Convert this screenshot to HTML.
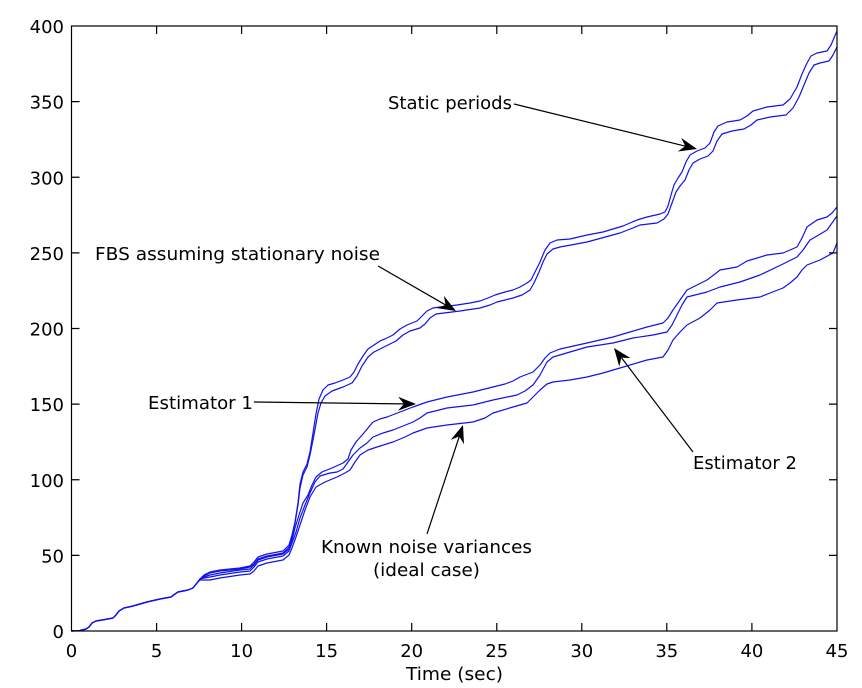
<!DOCTYPE html>
<html>
<head>
<meta charset="utf-8">
<style>
html,body{margin:0;padding:0;background:#fff;}
svg{display:block;}
text{font-family:"DejaVu Sans","Liberation Sans",sans-serif;fill:#000;}
</style>
</head>
<body>
<svg width="862" height="688" viewBox="0 0 862 688" xmlns="http://www.w3.org/2000/svg">
<rect x="0" y="0" width="862" height="688" fill="#fff"/>

<!-- curves -->
<g fill="none" stroke="#1212e8" stroke-width="1.2" stroke-linejoin="round" stroke-linecap="round">
<!-- FBS upper -->
<polyline points="72,631 80,630.5 86,629 89,627 92,623 96,621 105,619.5 113,618 116,615 119,611 124,608 133,606 147,602 160,599 171,597 175,594 178,592 188,590 193,588 197,583 200,579 204,575 210,572 220,570 240,568 250,566 254,562 258,557 267,554 283,551 289,545 292,535 295,522 298,503 300,484 303,472 307,464 310,452 313,433 316,414 319,399 323,390 328,385 335,383 343,380 350,377 354,372 358,364 363,356 368,349 374,345 380,341 387,338 393,335 400,329 407,325 417,321 422,316 427,311 433,308 440,307 457,305 470,303 480,301 488,298 495,295 505,292 513,290 520,287 527,283 531,280 535,272 540,262 545,250 550,243 557,240 570,239 587,235 603,232 623,226 630,223 637,220 647,217 660,214 665,212 668,206 671,195 674,185 678,178 682,172 686,162 690,155 697,151 705,148 710,143 714,132 718,126 727,122 740,120 747,116 753,111 767,107 783,105 790,99 797,87 802,74 807,63 811,56 817,53 827,51 831,45 834,38 837,31"/>
<!-- FBS lower -->
<polyline points="72,631 80,630.5 86,629 89,627 92,623 96,621 105,619.5 113,618 116,615 119,611 124,608 133,606 147,602 160,599 171,597 175,594 178,592 188,590 193,588 197,583 200,579 204,576 210,573 220,571 240,569 250,567 254,564 258,559 267,556 283,553 289,547 292,537 295,523 298,505 300,488 303,475 307,467 310,455 314,435 318,413 321,403 325,396 332,391 343,387 352,383 357,376 362,366 368,357 374,352 382,348 390,344 396,341 403,335 410,331 420,328 425,324 430,318 436,314 444,313 460,311 480,308 490,305 497,302 513,298 522,295 530,290 534,283 539,272 543,262 547,254 553,249 560,247 587,242 620,233 633,228 640,225 657,223 664,219 668,214 672,203 676,192 680,186 685,180 689,170 693,163 700,159 708,156 713,151 717,141 722,134 732,131 744,129 751,125 757,120 770,117 786,115 793,108 799,97 804,85 809,73 814,65 820,63 829,61 833,55 837,47"/>
<!-- Estimator 1 (top of lower group) -->
<polyline points="72,631 80,630.5 86,629 89,627 92,623 96,621 105,619.5 113,618 116,615 119,611 124,608 133,606 147,602 160,599 171,597 175,594 178,592 188,590 193,588 197,583 200,579 204,577 210,575 220,573 240,570 250,569 254,565 258,560 267,557 283,554 289,549 292,540 295,528 299,515 303,503 308,495 312,485 316,477 322,472 332,468 343,463 348,459 351,450 356,442 363,434 368,428 373,422 380,419 387,417 400,412 413,407 427,402 447,397 473,392 493,387 505,384 513,381 520,377 533,372 540,365 545,358 550,353 560,349 587,343 613,337 630,332 647,327 663,323 668,318 673,310 680,300 687,290 697,285 707,280 715,274 720,270 737,267 747,261 767,255 783,253 797,247 802,238 807,227 817,220 827,217 832,213 837,207"/>
<!-- Estimator 2 (middle) -->
<polyline points="72,631 80,630.5 86,629 89,627 92,623 96,621 105,619.5 113,618 116,615 119,611 124,608 133,606 147,602 160,599 171,597 175,594 178,592 188,590 193,588 197,583 200,579 204,578 210,577 220,575 240,572 250,571 254,567 258,562 267,559 283,556 289,551 292,543 296,532 300,518 305,505 310,493 315,482 320,476 330,473 337,472 343,469 348,462 353,455 360,448 367,443 373,437 383,433 393,430 403,426 413,422 420,418 427,413 447,408 473,405 493,400 517,395 525,391 533,385 540,375 547,362 553,357 570,352 587,347 613,343 633,338 653,335 667,332 672,325 677,315 682,305 687,297 707,292 720,287 740,282 760,275 783,264 797,257 803,250 810,240 817,236 827,230 837,216"/>
<!-- Known noise variances (bottom) -->
<polyline points="72,631 80,630.5 86,629 89,627 92,623 96,621 105,619.5 113,618 116,615 119,611 124,608 133,606 147,602 160,599 171,597 175,594 178,592 188,590 193,588 197,583 200,580 204,580 210,580 220,578 240,575 250,574 254,571 258,566 267,563 283,560 289,555 292,548 296,537 300,525 305,510 310,497 316,487 325,482 337,477 345,473 350,470 355,462 360,455 368,450 377,447 393,442 405,437 413,433 427,428 447,425 473,422 485,418 493,413 513,407 527,403 533,397 540,390 547,384 553,382 570,380 587,377 603,373 620,368 647,360 663,357 668,350 673,340 680,332 687,325 700,318 710,310 717,303 737,300 760,297 770,293 783,288 790,283 797,277 802,270 807,265 820,260 833,253 837,243"/>
</g>

<!-- axes box -->
<rect x="71.5" y="26" width="765.5" height="605" fill="none" stroke="#000" stroke-width="1.2"/>

<!-- ticks -->
<g stroke="#000" stroke-width="1.2">
<path d="M156.6,631v-8M241.6,631v-8M326.6,631v-8M411.7,631v-8M496.8,631v-8M581.8,631v-8M666.8,631v-8M751.9,631v-8"/>
<path d="M156.6,26v8M241.6,26v8M326.6,26v8M411.7,26v8M496.8,26v8M581.8,26v8M666.8,26v8M751.9,26v8"/>
<path d="M71.5,555.4h8M71.5,479.75h8M71.5,404.1h8M71.5,328.5h8M71.5,252.9h8M71.5,177.25h8M71.5,101.6h8"/>
<path d="M837,555.4h-8M837,479.75h-8M837,404.1h-8M837,328.5h-8M837,252.9h-8M837,177.25h-8M837,101.6h-8"/>
</g>

<!-- tick labels -->
<g font-size="18" text-anchor="middle">
<text x="71.5" y="657">0</text>
<text x="156.6" y="657">5</text>
<text x="241.6" y="657">10</text>
<text x="326.6" y="657">15</text>
<text x="411.7" y="657">20</text>
<text x="496.8" y="657">25</text>
<text x="581.8" y="657">30</text>
<text x="666.8" y="657">35</text>
<text x="751.9" y="657">40</text>
<text x="837" y="657">45</text>
</g>
<g font-size="18" text-anchor="end">
<text x="64" y="638">0</text>
<text x="64" y="562.4">50</text>
<text x="64" y="486.75">100</text>
<text x="64" y="411.1">150</text>
<text x="64" y="335.5">200</text>
<text x="64" y="259.9">250</text>
<text x="64" y="184.25">300</text>
<text x="64" y="108.6">350</text>
<text x="64" y="33">400</text>
</g>

<text x="406" y="680" font-size="18" textLength="97" lengthAdjust="spacingAndGlyphs">Time (sec)</text>

<!-- annotations -->
<g font-size="18">
<text x="388" y="109" textLength="124" lengthAdjust="spacingAndGlyphs">Static periods</text>
<text x="95" y="260" textLength="285" lengthAdjust="spacingAndGlyphs">FBS assuming stationary noise</text>
<text x="148" y="409" textLength="105" lengthAdjust="spacingAndGlyphs">Estimator 1</text>
<text x="693" y="469" textLength="104" lengthAdjust="spacingAndGlyphs">Estimator 2</text>
<text x="321" y="553" textLength="211" lengthAdjust="spacingAndGlyphs">Known noise variances</text>
<text x="373" y="576" textLength="107" lengthAdjust="spacingAndGlyphs">(ideal case)</text>
</g>

<!-- arrows -->
<g stroke="#000" stroke-width="1.2" fill="none">
<line x1="514" y1="104" x2="686" y2="146.3"/>
<line x1="378" y1="266" x2="446" y2="305.2"/>
<line x1="254" y1="402" x2="404" y2="403.9"/>
<line x1="693" y1="452" x2="621.5" y2="357.8"/>
<line x1="427" y1="534" x2="459.3" y2="436.5"/>
</g>
<g fill="#000" stroke="none">
<polygon points="697,149 677.8,151.5 685.3,146.1 681.2,137.9"/>
<polygon points="456,311 436.9,308.1 445.6,305 443.9,295.9"/>
<polygon points="416,404 397.9,410.8 404,403.9 398.1,396.8"/>
<polygon points="614,348 630.5,358.1 621.3,357.6 619.3,366.6"/>
<polygon points="463,425 464,444.3 459.2,436.4 450.7,439.9"/>
</g>
</svg>
</body>
</html>
